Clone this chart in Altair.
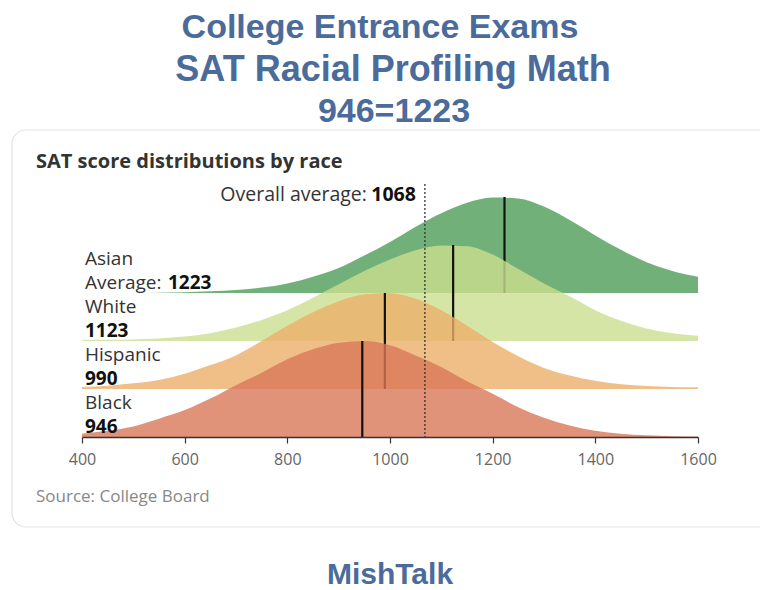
import altair as alt
import pandas as pd

# ---------------- data ----------------
SCORES = [400, 450, 500, 550, 600, 650, 700, 750, 800, 850, 900, 950, 1000,
          1050, 1100, 1150, 1200, 1250, 1300, 1350, 1400, 1450, 1500, 1550, 1600]
GROUPS = ["Asian", "White", "Hispanic", "Black"]
MEANS = [1223, 1123, 990, 946]
OVERALL = 1068
# relative density (peak = 1)
ASIAN = [0, 0, 0, 0.003, 0.008, 0.018, 0.03, 0.056, 0.10, 0.17, 0.26, 0.39, 0.53,
         0.69, 0.83, 0.94, 0.995, 0.985, 0.90, 0.76, 0.60, 0.45, 0.32, 0.23, 0.17]
WHITE = [0.01, 0.012, 0.016, 0.027, 0.047, 0.082, 0.14, 0.22, 0.32, 0.45, 0.59, 0.73, 0.85,
         0.946, 0.995, 0.987, 0.90, 0.75, 0.60, 0.465, 0.32, 0.21, 0.13, 0.08, 0.055]
HISPANIC = [0.022, 0.035, 0.06, 0.095, 0.16, 0.25, 0.35, 0.50, 0.66, 0.80, 0.914, 0.984, 0.997,
            0.94, 0.82, 0.66, 0.49, 0.34, 0.22, 0.14, 0.085, 0.05, 0.03, 0.022, 0.018]
BLACK = [0.035, 0.065, 0.11, 0.19, 0.28, 0.40, 0.54, 0.67, 0.81, 0.914, 0.982, 0.999, 0.957,
         0.85, 0.73, 0.58, 0.45, 0.31, 0.20, 0.12, 0.065, 0.035, 0.018, 0.008, 0.004]
SERIES = [ASIAN, WHITE, HISPANIC, BLACK]
TICKS = [400, 600, 800, 1000, 1200, 1400, 1600]
COLORS = ["#4f9c59", "#cade8e", "#ebaf69", "#d97859"]

TITLE_LINES = ["College Entrance Exams", "SAT Racial Profiling Math", "946=1223"]
SUBTITLE = "SAT score distributions by race"
SOURCE = "Source: College Board"
BRAND = "MishTalk"

# ---------------- styling ----------------
PEAK_ROWS = 2          # a peak is two rows tall
W, H = 616, 288
PAD = {"left": 82, "top": 149, "right": 62, "bottom": 153}
TITLE_BLUE = "#4b6b9b"
SANS = "Open Sans"
LAB = 19

xs = alt.Scale(domain=[400, 1600], nice=False, zero=False)
ys = alt.Scale(domain=[0, 6], nice=False, zero=False)
xaxis = alt.Axis(values=TICKS, title=None, grid=False, format="d", zindex=2, labelFlush=False,
                 domainColor="#333", domainWidth=1.5, tickColor="#333",
                 tickSize=6, tickWidth=1.2, labelColor="#666", labelFont=SANS,
                 labelFontSize=16, labelPadding=8)

n = len(GROUPS)
one = alt.Data(values=[{}])

layers = []

# card
layers.append(
    alt.Chart(one).mark_rect(cornerRadius=14, fill="white", stroke="#e3e3e3", strokeWidth=1.2)
    .encode(x=alt.value(12 - 82), x2=alt.value(790 - 82), y=alt.value(130 - 149), y2=alt.value(527 - 149))
)

for i, (g, vals, m, c) in enumerate(zip(GROUPS, SERIES, MEANS, COLORS)):
    row = n - 1 - i
    df = pd.DataFrame({"score": SCORES, "dens": vals})
    df["base"] = row
    df["top"] = row + PEAK_ROWS * df["dens"]
    area = alt.Chart(df).mark_area(interpolate="monotone", fillOpacity=0.8, color=c, strokeWidth=0).encode(
        x=alt.X("score:Q", scale=xs, axis=xaxis),
        y=alt.Y("top:Q", scale=ys, axis=None),
        y2="base:Q",
    )
    mdf = pd.DataFrame({"mean": [m], "base": [row], "peak": [row + PEAK_ROWS]})
    rule = alt.Chart(mdf).mark_rule(color="#111", strokeWidth=2.2).encode(
        x=alt.X("mean:Q", scale=xs, axis=xaxis),
        y=alt.Y("base:Q", scale=ys, axis=None),
        y2="peak:Q",
    )
    layers += [area, rule]

# overall average
odf = pd.DataFrame({"v": [OVERALL], "lab": [str(OVERALL)]})
layers.append(
    alt.Chart(odf).mark_rule(color="#333", strokeDash=[2, 2], strokeWidth=1.3).encode(
        x=alt.X("v:Q", scale=xs, axis=xaxis), y=alt.value(35), y2=alt.value(H))
)
layers.append(
    alt.Chart(odf).mark_text(align="right", baseline="alphabetic", dx=-9, font=SANS, fontSize=19.5,
                             fontWeight="bold", color="#111").encode(
        x=alt.X("v:Q", scale=xs, axis=xaxis), y=alt.value(52), text="lab:N")
)
layers.append(
    alt.Chart(odf).mark_text(align="right", baseline="alphabetic", dx=-58, font=SANS, fontSize=19.5,
                             color="#333", text="Overall average:").encode(
        x=alt.X("v:Q", scale=xs, axis=xaxis), y=alt.value(52))
)

# group labels
ldf = pd.DataFrame({"group": GROUPS, "row": [n - 1 - i for i in range(n)],
                    "mean": [str(v) for v in MEANS]})
layers.append(
    alt.Chart(ldf).mark_text(align="left", baseline="alphabetic", dy=-28, font=SANS, fontSize=LAB,
                             color="#333").encode(
        x=alt.value(3), y=alt.Y("row:Q", scale=ys, axis=None), text="group:N")
)
layers.append(
    alt.Chart(ldf).transform_filter(alt.datum.group != GROUPS[0]).mark_text(
        align="left", baseline="alphabetic", dy=-4.5, font=SANS, fontSize=LAB, fontWeight="bold",
        color="#111").encode(x=alt.value(3), y=alt.Y("row:Q", scale=ys, axis=None), text="mean:N")
)
layers.append(
    alt.Chart(ldf).transform_filter(alt.datum.group == GROUPS[0]).mark_text(
        align="left", baseline="alphabetic", dy=-4.5, font=SANS, fontSize=LAB,
        color="#333", text="Average:").encode(x=alt.value(3), y=alt.Y("row:Q", scale=ys, axis=None))
)
layers.append(
    alt.Chart(ldf).transform_filter(alt.datum.group == GROUPS[0]).mark_text(
        align="left", baseline="alphabetic", dy=-4.5, font=SANS, fontSize=LAB, fontWeight="bold",
        color="#111").encode(x=alt.value(86), y=alt.Y("row:Q", scale=ys, axis=None), text="mean:N")
)

# texts outside plot
for line, xc, yb, fs in zip(TITLE_LINES, [380, 393, 394], [38, 81, 122], [34, 36, 34]):
    layers.append(
        alt.Chart(one).mark_text(align="center", baseline="alphabetic", font="Liberation Sans",
                                 fontSize=fs, fontWeight="bold", color=TITLE_BLUE, text=line)
        .encode(x=alt.value(xc - 82), y=alt.value(yb - 149))
    )
layers.append(
    alt.Chart(one).mark_text(align="left", baseline="alphabetic", font=SANS, fontSize=20,
                             fontWeight="bold", color="#333", text=SUBTITLE)
    .encode(x=alt.value(36 - 82), y=alt.value(168 - 149))
)
layers.append(
    alt.Chart(one).mark_text(align="left", baseline="alphabetic", font=SANS, fontSize=17,
                             color="#888", text=SOURCE)
    .encode(x=alt.value(36 - 82), y=alt.value(502 - 149))
)
layers.append(
    alt.Chart(one).mark_text(align="center", baseline="alphabetic", font="Liberation Sans",
                             fontSize=30, fontWeight="bold", color=TITLE_BLUE, text=BRAND)
    .encode(x=alt.value(390 - 82), y=alt.value(584 - 149))
)

chart = alt.layer(*layers).properties(
    width=W, height=H, padding=PAD, autosize=alt.AutoSizeParams(type="none"),
    background="white",
).configure_view(stroke=None)

chart.save("out.html", embed_options={"renderer": "svg", "actions": False})
